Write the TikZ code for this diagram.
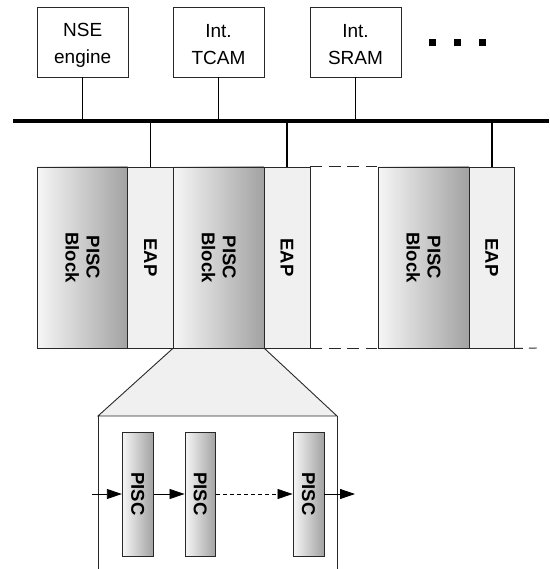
\documentclass[tikz,border=0pt]{standalone}
\usepackage{fontspec}
\setmainfont{Liberation Sans}
\usetikzlibrary{arrows.meta}
\definecolor{gradL}{RGB}{246,246,246}
\definecolor{gradR}{RGB}{162,162,162}
\definecolor{eapfill}{RGB}{240,240,240}
\definecolor{edge}{RGB}{40,40,40}
\tikzset{
  topbox/.style={draw=edge, line width=0.9pt, fill=white, minimum width=91pt, minimum height=70pt,
    inner sep=0pt},
  toptext/.style={align=center, inner sep=0pt, yshift=-3pt, font=\fontsize{19}{27}\selectfont},
  pblock/.style={draw=edge, line width=0.9pt, left color=gradL, right color=gradR, minimum width=90.7pt,
    minimum height=181pt, inner sep=0pt},
  eapblock/.style={draw=edge, line width=0.9pt, fill=eapfill, minimum width=45.6pt,
    minimum height=181pt, inner sep=0pt},
  spisc/.style={draw=edge, line width=0.9pt, left color=gradL, right color=gradR, minimum width=31pt,
    minimum height=124pt, inner sep=0pt},
  vtext/.style={rotate=-90, align=center, inner sep=0pt, font=\fontsize{18.5}{21}\selectfont\bfseries},
  stem/.style={line width=1.6pt, black},
  busline/.style={line width=3.6pt, black},
  gapdash/.style={line width=0.9pt, edge, dash pattern=on 11.7pt off 6.7pt},
  flow/.style={line width=0.8pt, black, -{Triangle[length=15pt,width=10pt]}},
  dotsq/.style={fill=black, minimum size=6.5pt, inner sep=0pt},
}
\begin{document}
\begin{tikzpicture}[x=1pt,y=-1pt]
\useasboundingbox (0,0) rectangle (549,569);
% top boxes
\node[topbox] (nse) at (82.65,42) {};
\node[toptext] (nset) at (nse) {NSE\\engine};
\node[topbox] (tcam) at (218.5,42) {};
\node[toptext] (tcamt) at (tcam) {Int.\\TCAM};
\node[topbox] (sram) at (355.5,42) {};
\node[toptext] (sramt) at (sram) {Int.\\SRAM};
\node[dotsq] (d1) at (432.5,42.5) {};
\node[dotsq] (d2) at (457.5,42.5) {};
\node[dotsq] (d3) at (482.5,42.5) {};
% bus
\coordinate (busL) at (13,121);
\coordinate (busR) at (549,121);
\draw[busline] (busL) -- (busR);
\foreach \b in {nse,tcam,sram} \draw[stem] (\b.south) -- (\b.south |- busL);
% zoom trapezoid
\coordinate (zl) at (98,416);
\coordinate (zr) at (337,416);
\coordinate (zlb) at (98,570);
\coordinate (zrb) at (337,570);
\draw[draw=edge, line width=0.9pt, fill=eapfill] (173.3,348) -- (zl) -- (zr) -- (264,348) -- cycle;
\draw[draw=edge, line width=0.9pt] (zl) -- (zlb);
\draw[draw=edge, line width=0.9pt] (zr) -- (zrb);
% blocks
\node[pblock, minimum width=90.4pt] (pb1) at (82.5,257.5) {};
\node[vtext] (pb1t) at (pb1) {PISC\\Block};
\node[eapblock] (eap1) at (150.5,257.5) {};
\node[vtext] (eap1t) at (eap1) {EAP};
\node[pblock] (pb2) at (218.65,257.5) {};
\node[vtext] (pb2t) at (pb2) {PISC\\Block};
\node[eapblock, minimum width=46pt] (eap2) at (287,257.5) {};
\node[vtext] (eap2t) at (eap2) {EAP};
\node[pblock, minimum width=91pt] (pb3) at (423.5,257.5) {};
\node[vtext] (pb3t) at (pb3) {PISC\\Block};
\node[eapblock, minimum width=45.5pt] (eap3) at (491.75,257.5) {};
\node[vtext] (eap3t) at (eap3) {EAP};
\foreach \e in {eap1,eap2,eap3} \draw[stem] (\e.north |- busL) -- (\e.north);
% dashed gaps
\draw[gapdash] (eap2.north east) -- (pb3.north west);
\draw[gapdash] (eap2.south east) -- (pb3.south west);
\coordinate (bend) at (538,348);
\draw[line width=0.9pt, edge, dash pattern=on 8pt off 6pt] (eap3.south east) -- (bend);
% small PISC chain
\node[spisc] (s1) at (137.8,494) {};
\node[spisc, minimum width=30.7pt] (s2) at (200.35,494) {};
\node[spisc] (s3) at (308.5,494) {};
\foreach \s in {s1,s2,s3} \node[vtext] at (\s) {PISC};
\coordinate (ain) at (92,494);
\coordinate (aout) at (355,494);
\draw[flow] (ain) -- (s1.west);
\draw[flow] (s1.east) -- (s2.west);
\draw[flow, dash pattern=on 4pt off 3pt] (s2.east) -- (s3.west);
\draw[flow] (s3.east) -- (aout);
\end{tikzpicture}
\end{document}
